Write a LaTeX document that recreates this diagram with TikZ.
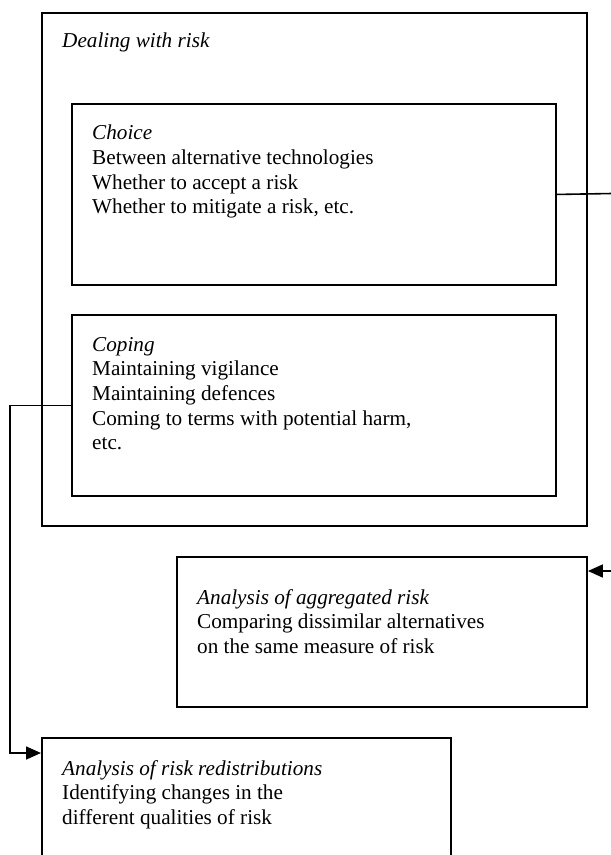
\documentclass[tikz,border=0pt]{standalone}
\usepackage{fontspec}
\setmainfont{Liberation Serif}
\usetikzlibrary{arrows.meta}
\begin{document}
\begin{tikzpicture}[x=1pt,y=-1pt,
  box/.style={draw,line width=1.9pt,rectangle,inner sep=0pt,anchor=north west},
  txt/.style={anchor=north west,inner sep=0pt,align=left,font=\fontsize{21.2}{24.6}\selectfont},
  conn/.style={line width=1.6pt},
  arr/.style={line width=1.6pt,-{Triangle[length=15pt,width=13pt]}}]
\useasboundingbox (0,0) rectangle (611,855);
\clip (0,0) rectangle (611,855);
\node[box,minimum width=545pt,minimum height=513pt] (outer) at (41,12) {};
\node[box,minimum width=484pt,minimum height=181pt] (choice) at (71,103) {};
\node[box,minimum width=484pt,minimum height=181pt] (coping) at (71,314) {};
\node[box,minimum width=410pt,minimum height=150pt] (agg) at (176,556) {};
\node[box,minimum width=409pt,minimum height=140pt] (redist) at (41,737) {};
\node[txt] (tdeal) at (62,33) {\textit{Dealing with risk}};
\node[txt] (tchoice) at (92,125) {\textit{Choice}\\Between alternative technologies\\Whether to accept a risk\\Whether to mitigate a risk, etc.};
\node[txt] (tcoping) at (92,337) {\textit{Coping}\\Maintaining vigilance\\Maintaining defences\\Coming to terms with potential harm,\\etc.};
\node[txt] (tagg) at (197,589) {\textit{Analysis of aggregated risk}\\Comparing dissimilar alternatives\\on the same measure of risk};
\node[txt] (tred) at (62,760) {\textit{Analysis of risk redistributions}\\Identifying changes in the\\different qualities of risk};
\coordinate (rout) at (612,193.5);
\coordinate (rin) at (612,571);
\coordinate (lx) at (10,0);
\draw[conn] (choice.east) -- (rout);
\draw[arr] (rin) -- (agg.east |- rin);
\draw[arr] (coping.west) -- (coping.west -| lx) |- (redist.west |- 0,753);
\end{tikzpicture}
\end{document}
